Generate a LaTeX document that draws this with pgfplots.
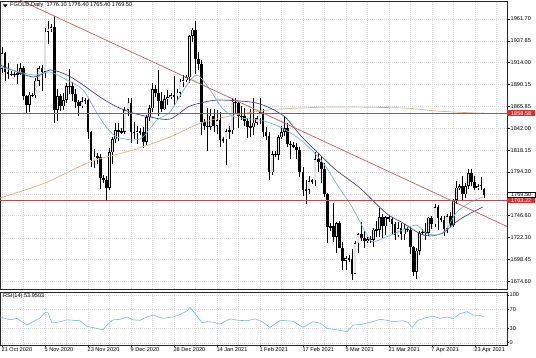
\documentclass[border=0pt]{standalone}
\usepackage{fontspec}
\setmainfont{Liberation Sans}
\usepackage{pgfplots}
\usepackage{pgfplotstable}
\pgfplotsset{compat=1.18}
\newcommand\lf{\fontsize{5.6}{6.4}\selectfont}
\definecolor{mateal}{RGB}{120,185,195}
\definecolor{manavy}{RGB}{72,68,135}
\definecolor{matan}{RGB}{210,180,140}
\definecolor{trend}{RGB}{190,105,105}
\definecolor{hline}{RGB}{185,75,75}
\definecolor{lblred}{RGB}{225,45,45}
\definecolor{rsic}{RGB}{120,185,210}
\definecolor{bullfill}{RGB}{225,225,225}

\pgfplotstableread{
i o h l c
0 1907 1931 1903 1924
1 1924 1926 1894 1904
2 1904 1913 1896 1902
3 1902 1905 1899 1901
4 1901 1904 1898 1902
5 1902 1912 1891 1902
6 1902 1914 1900 1908
7 1908 1910 1873 1877
8 1877 1879 1859 1868
9 1868 1882 1860 1879
10 1879 1881 1876 1878
11 1878 1897 1875 1894
12 1894 1910 1888 1908
13 1908 1911 1883 1904
14 1904 1952 1897 1948
15 1948 1960 1934 1951
16 1951 1956 1948 1953
17 1953 1965 1848 1862
18 1862 1885 1850 1877
19 1877 1880 1861 1866
20 1866 1881 1862 1873
21 1873 1892 1870 1888
22 1888 1907 1880 1888
23 1888 1893 1872 1880
24 1880 1885 1864 1871
25 1871 1873 1855 1866
26 1866 1876 1864 1872
27 1872 1875 1869 1873
28 1873 1875 1830 1838
29 1838 1839 1800 1807
30 1807 1819 1799 1811
31 1811 1815 1803 1811
32 1811 1814 1776 1788
33 1788 1791 1782 1786
34 1786 1790 1764 1777
35 1777 1820 1774 1816
36 1816 1832 1803 1830
37 1830 1848 1826 1840
38 1840 1848 1828 1839
39 1839 1842 1836 1838
40 1838 1865 1836 1862
41 1862 1875 1855 1870
42 1870 1875 1826 1838
43 1838 1849 1830 1837
44 1837 1845 1825 1839
45 1839 1842 1835 1838
46 1838 1843 1820 1827
47 1827 1857 1824 1854
48 1854 1868 1850 1864
49 1864 1892 1860 1885
50 1885 1889 1876 1881
51 1881 1906 1855 1872
52 1872 1882 1860 1863
53 1863 1879 1862 1874
54 1874 1884 1868 1876
55 1876 1881 1874 1878
56 1878 1899 1868 1877
57 1877 1885 1873 1881
58 1881 1896 1876 1893
59 1893 1900 1887 1895
60 1895 1900 1893 1898
61 1898 1944 1892 1943
62 1943 1952 1936 1950
63 1950 1959 1901 1918
64 1918 1926 1906 1912
65 1912 1917 1835 1849
66 1849 1852 1840 1845
67 1845 1864 1817 1844
68 1844 1863 1840 1856
69 1856 1863 1838 1845
70 1845 1862 1836 1851
71 1851 1860 1822 1829
72 1829 1833 1826 1830
73 1830 1841 1802 1839
74 1839 1845 1830 1840
75 1840 1875 1836 1871
76 1871 1875 1859 1870
77 1870 1871 1842 1855
78 1855 1867 1851 1856
79 1856 1864 1845 1850
80 1850 1853 1831 1844
81 1844 1863 1833 1843
82 1843 1875 1835 1848
83 1848 1856 1846 1853
84 1853 1875 1847 1860
85 1860 1863 1832 1838
86 1838 1843 1829 1834
87 1834 1838 1785 1794
88 1794 1817 1791 1814
89 1814 1817 1811 1813
90 1813 1835 1807 1832
91 1832 1845 1830 1838
92 1838 1855 1834 1842
93 1842 1848 1822 1825
94 1825 1828 1809 1824
95 1824 1827 1820 1822
96 1822 1826 1809 1818
97 1818 1822 1789 1794
98 1794 1800 1768 1775
99 1775 1785 1759 1775
100 1775 1790 1770 1784
101 1784 1787 1781 1785
102 1785 1816 1779 1808
103 1808 1815 1794 1805
104 1805 1812 1782 1797
105 1797 1804 1767 1770
106 1770 1771 1717 1734
107 1734 1738 1730 1735
108 1735 1760 1718 1723
109 1723 1739 1706 1738
110 1738 1741 1711 1711
111 1711 1718 1687 1697
112 1697 1702 1687 1700
113 1700 1703 1696 1699
114 1699 1710 1676 1683
115 1683 1719 1683 1716
116 1716 1727 1706 1726
117 1726 1739 1719 1722
118 1722 1730 1711 1719
119 1719 1723 1716 1721
120 1721 1724 1717 1720
121 1720 1733 1712 1731
122 1731 1741 1723 1731
123 1731 1755 1723 1745
124 1745 1748 1722 1735
125 1735 1746 1725 1745
126 1745 1747 1740 1743
127 1743 1745 1726 1737
128 1737 1740 1720 1725
129 1725 1739 1723 1733
130 1733 1738 1720 1726
131 1726 1737 1720 1732
132 1732 1734 1729 1731
133 1731 1734 1705 1712
134 1712 1713 1680 1685
135 1685 1711 1677 1708
136 1708 1730 1703 1728
137 1728 1732 1725 1729
138 1729 1738 1720 1728
139 1728 1745 1724 1744
140 1744 1746 1732 1737
141 1737 1759 1734 1756
142 1756 1758 1731 1744
143 1744 1746 1740 1742
144 1742 1746 1724 1732
145 1732 1748 1727 1746
146 1746 1750 1734 1736
147 1736 1765 1734 1764
148 1764 1784 1759 1777
149 1777 1781 1774 1779
150 1779 1790 1763 1770
151 1770 1782 1766 1779
152 1779 1797 1776 1793
153 1793 1798 1779 1783
154 1783 1790 1774 1777
155 1777 1781 1775 1779
156 1779 1789 1774 1780
157 1776.1 1776.4 1765.4 1769.5
}\ohlc

\pgfplotstableread{
i v
-0.65 1909.2
10.1 1900.4
15.6 1903.7
21.2 1894.9
26.4 1884.0
30.9 1858.8
34.2 1842.4
37.5 1832.5
42.7 1829.3
45.9 1832.5
50.5 1851.1
54.7 1859.9
59.6 1886.2
63.5 1900.4
67.8 1884.0
71.7 1864.3
75.9 1854.4
84.0 1851.1
90.6 1843.5
97.4 1829.0
103.0 1810.7
106.2 1796.4
109.4 1779.0
114.0 1756.0
118.6 1727.0
120.8 1718.0
125.1 1723.1
130.6 1730.7
134.9 1736.2
138.1 1727.4
141.4 1725.3
144.6 1730.7
147.9 1749.3
152.1 1760.3
156.7 1766.9
}\fastma

\pgfplotstableread{
i v
-0.65 1911.3
10.1 1898.2
15.6 1905.9
21.2 1900.4
26.4 1889.5
31.9 1876.3
37.5 1865.4
42.7 1858.8
48.2 1854.4
54.7 1852.2
60.6 1865.4
64.8 1869.8
70.4 1873.0
81.1 1870.8
86.6 1865.4
92.2 1854.4
97.4 1833.6
103.0 1815.0
108.8 1796.4
116.6 1776.7
125.1 1749.3
130.6 1738.4
135.8 1727.4
139.1 1724.2
143.6 1727.4
147.9 1739.5
152.1 1748.2
156.7 1756.0
}\slowma

\pgfplotstableread{
i v
-0.65 1765.8
14.0 1782.2
28.7 1805.2
42.7 1818.3
54.7 1832.5
64.8 1847.9
75.9 1856.6
86.6 1862.1
97.4 1864.3
109.4 1865.4
130.6 1864.3
141.4 1861.0
154.4 1858.8
157.0 1858.8
}\longma

\pgfplotstableread{
i v
-0.65 54
2.6 48
4.9 51
8.1 37
10.1 44
12.4 52
14.0 63
15.0 63
16.3 41
18.9 44
21.2 48
25.4 46
27.7 34
30.9 30
32.9 27
34.2 37
36.2 48
38.4 49
40.7 54
42.7 48
45.0 47
47.2 54
49.2 58
52.4 51
55.7 54
58.0 59
60.3 67
61.2 74
62.9 61
65.1 42
66.8 44
68.7 43
71.0 39
74.3 50
76.9 47
79.8 46
82.5 50
85.0 43
87.3 32
90.6 47
94.8 45
98.0 32
101.3 44
103.6 41
105.9 30
109.1 27
112.4 23
114.3 37
116.6 38
120.8 44
123.1 49
125.4 47
127.4 44
130.6 46
132.2 43
133.6 32
135.5 47
138.4 53
140.4 56
142.7 51
145.0 54
146.9 50
149.2 61
151.5 65
153.4 58
155.7 57
157.0 54
}\rsi

\begin{document}
\begin{tikzpicture}
\useasboundingbox (0pt,0pt) rectangle (536pt,357pt);
\pgfplotsset{
  mtgrid/.style={
    grid=both,
    major grid style={draw=gray!28, dash pattern=on 1pt off 1pt, line width=0.4pt},
    minor grid style={draw=gray!28, dash pattern=on 1pt off 1pt, line width=0.4pt},
    minor tick length=0pt,
  },
}
% ---------- main price panel ----------
\begin{axis}[
  at={(0pt,68pt)}, anchor=south west, scale only axis,
  width=507pt, height=288pt,
  xmin=-0.651, xmax=164.5, ymin=1666.16, ymax=1981.4,
  clip mode=individual,
  axis line style={black!85, line width=0.6pt},
  mtgrid,
  xtick={0,14,...,154}, minor xtick={7,21,...,161},
  xticklabels={}, xtick style={draw=none},
  ytick={1674.6,1698.45,1722.3,1746.6,1770.45,1794.3,1818.15,1842,1865.85,1890.15,1914,1937.85,1961.7},
  yticklabels={1674.60,1698.45,1722.30,1746.60,,1794.30,1818.15,1842.00,1865.85,1890.15,1914.00,1937.85,1961.70},
  ytick pos=right, yticklabel pos=right, tick align=outside,
  major tick length=3pt, ytick style={black, line width=0.5pt},
  yticklabel style={font=\lf, anchor=west, inner sep=0pt, xshift=0.5pt},
]
% wicks
\addplot[draw=none, forget plot, error bars/.cd, y dir=both, y explicit, error mark=none,
  error bar style={draw=black, line width=0.6pt, solid}]
  table[x=i, y expr={(\thisrow{h}+\thisrow{l})/2}, y error expr={(\thisrow{h}-\thisrow{l})/2}] {\ohlc};
% bodies (black)
\addplot[draw=none, forget plot, error bars/.cd, y dir=both, y explicit, error mark=none,
  error bar style={draw=black, line width=2.7pt, solid}]
  table[x=i, y expr={(\thisrow{o}+\thisrow{c})/2}, y error expr={max(abs(\thisrow{c}-\thisrow{o})/2,0.55)}] {\ohlc};
% bullish bodies (light inside)
\addplot[draw=none, forget plot, error bars/.cd, y dir=both, y explicit, error mark=none,
  error bar style={draw=bullfill, line width=1.5pt, solid}]
  table[x=i, y expr={(\thisrow{o}+\thisrow{c})/2}, y error expr={(\thisrow{c}>\thisrow{o})*max((\thisrow{c}-\thisrow{o})/2-0.66,0)}] {\ohlc};
% moving averages
\addplot[matan, line width=0.7pt, smooth, tension=0.5] table[x=i,y=v] {\longma};
\addplot[manavy, line width=0.7pt, smooth, tension=0.5] table[x=i,y=v] {\slowma};
\addplot[mateal, line width=0.7pt, smooth, tension=0.5] table[x=i,y=v] {\fastma};
% horizontal levels and trendline
\addplot[hline, line width=0.75pt] coordinates {(-0.651,1858.58) (164.5,1858.58)};
\addplot[hline, line width=0.75pt] coordinates {(-0.651,1763.22) (164.5,1763.22)};
\addplot[trend, line width=0.75pt] coordinates {(5.86,1982.4) (164.5,1734.6)};
% price labels
\node[anchor=west, fill=lblred, text=white, inner xsep=1.2pt, inner ysep=0.8pt, minimum width=28pt, font=\lf] at (axis cs:164.5,1858.58) {1858.58};
\node[anchor=west, fill=white, draw=black, line width=0.4pt, text=black, inner xsep=1.2pt, inner ysep=0.8pt, minimum width=28pt, font=\lf] at (axis cs:164.5,1769.5) {1769.50};
\node[anchor=west, fill=lblred, text=white, inner xsep=1.2pt, inner ysep=0.8pt, minimum width=28pt, font=\lf] at (axis cs:164.5,1763.22) {1763.22};
\end{axis}

% ---------- RSI panel ----------
\begin{axis}[
  at={(0pt,12pt)}, anchor=south west, scale only axis,
  width=507pt, height=53pt,
  xmin=-0.651, xmax=164.5, ymin=-4.8, ymax=106.3,
  axis line style={black!85, line width=0.6pt},
  mtgrid,
  xtick={0,14,...,154}, minor xtick={7,21,...,161},
  xticklabels={21 Oct 2020,5 Nov 2020,23 Nov 2020,9 Dec 2020,28 Dec 2020,14 Jan 2021,1 Feb 2021,17 Feb 2021,5 Mar 2021,21 Mar 2021,7 Apr 2021,23 Apr 2021},
  xtick pos=bottom, xticklabel pos=bottom, tick align=outside,
  major tick length=2pt, xtick style={black, line width=0.5pt},
  xticklabel style={font=\lf, anchor=north west, inner sep=0pt, yshift=-0.5pt, xshift=-0.5pt},
  ytick={0,30,70,100}, yticklabels={0,30,70,100},
  ytick pos=right, yticklabel pos=right, ytick style={black, line width=0.5pt},
  yticklabel style={font=\lf, anchor=west, inner sep=0pt, xshift=0.5pt},
]
\addplot[rsic, line width=0.6pt] table[x=i,y=v] {\rsi};
\end{axis}

% header texts
\fill[black] (3pt,352.5pt) -- (7.5pt,352.5pt) -- (5.25pt,349.5pt) -- cycle;
\node[anchor=west, inner sep=0pt, font=\lf] at (10pt,351.5pt) {FGOLD,Daily\ \ 1776.10 1776.40 1765.40 1769.50};
\node[anchor=west, inner sep=0pt, font=\lf] at (3pt,60.5pt) {RSI(14) 53.9503};
\end{tikzpicture}
\end{document}
